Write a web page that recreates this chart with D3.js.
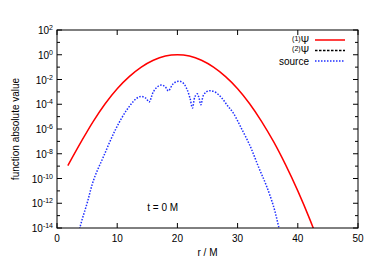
<!DOCTYPE html>
<html>
<head>
<meta charset="utf-8">
<script src="https://cdn.jsdelivr.net/npm/d3@7"></script>
<style>
  body { margin: 0; background: #fff; }
  svg text { font-family: "Liberation Sans", Arial, sans-serif; fill: #000; }
</style>
</head>
<body>
<div id="chart"></div>
<script>
// data
const xTicks = [0, 10, 20, 30, 40, 50];
const yExps = [2, 0, -2, -4, -6, -8, -10, -12, -14];

// (1)Psi, red solid
const psi1R = [1.8, 4, 6, 8, 10, 12, 14, 16, 18, 20, 22, 24, 26, 28, 30, 32, 34, 36, 38, 40, 42, 44];
const psi1V = [1.1e-9, 9e-8, 4e-6, 1.1e-4, 1.8e-3, 1.7e-2, 0.10, 0.36, 0.78, 1.0, 0.78, 0.36, 0.10,
               1.7e-2, 1.8e-3, 1.1e-4, 4e-6, 9e-8, 1.2e-9, 1e-11, 5e-14, 1.4e-16];

// source, blue dotted
const srcR = [3.0, 3.87, 5.0, 6.1, 7.75, 9.7, 11.6, 13.3, 14.1, 14.8, 15.3, 16.0, 16.7, 17.4, 18.0, 18.5,
              19.2, 19.8, 20.4, 21.0, 21.6, 22.1, 22.5, 22.9, 23.3, 23.6, 23.9, 24.3, 24.8, 25.4, 26.2,
              27.2, 28.3, 29.3, 30.5, 32.1, 33.5, 34.8, 36.0, 36.8, 37.6];
const srcV = [1e-16, 1.4e-14, 1e-12, 8e-11, 6.3e-9, 8.7e-7, 3.5e-5, 3.2e-4, 4.2e-4, 3e-4, 1.5e-4, 1e-3,
              2.6e-3, 3.6e-3, 2.5e-3, 1.2e-3, 4e-3, 6.5e-3, 7.2e-3, 5e-3, 1.6e-3, 3e-4, 5e-5, 4e-4, 7e-4,
              3e-4, 9e-5, 5e-4, 1e-3, 1.25e-3, 1e-3, 4e-4, 8e-5, 1.9e-5, 1.5e-6, 4e-8, 8e-10, 2.5e-11,
              5e-13, 1.4e-14, 3e-16];

const legendItems = [
  { sup: "(1)", name: "Ψ", color: "#ff0000", dash: null },
  { sup: "(2)", name: "Ψ", color: "#000000", dash: "2.5,1.5" },
  { sup: null, name: "source", color: "#1f2fff", dash: "1.5,1.5" }
];

const W = 374, H = 261;
const margin = { top: 30, right: 16, bottom: 33, left: 57 };
const width = W - margin.left - margin.right;
const height = H - margin.top - margin.bottom;

const svg = d3.select("#chart").append("svg")
  .attr("width", W).attr("height", H);
const g = svg.append("g")
  .attr("transform", `translate(${margin.left},${margin.top})`);

const x = d3.scaleLinear().domain([0, 50]).range([0, width]);
const y = d3.scaleLog().domain([1e-14, 1e2]).range([height, 0]);

g.append("clipPath").attr("id", "clip")
  .append("rect").attr("width", width).attr("height", height);

// ticks (inward, mirrored)
const tk = g.append("g").attr("stroke", "#000").attr("stroke-width", 1);
xTicks.forEach(v => {
  tk.append("line").attr("x1", x(v)).attr("x2", x(v)).attr("y1", height).attr("y2", height - 5);
  tk.append("line").attr("x1", x(v)).attr("x2", x(v)).attr("y1", 0).attr("y2", 5);
});
d3.range(-14, 3).forEach(e => {
  const len = e % 2 === 0 ? 5 : 3;
  const yy = y(Math.pow(10, e));
  tk.append("line").attr("x1", 0).attr("x2", len).attr("y1", yy).attr("y2", yy);
  tk.append("line").attr("x1", width).attr("x2", width - len).attr("y1", yy).attr("y2", yy);
});

// tick labels
g.selectAll(".xl").data(xTicks).enter().append("text")
  .attr("x", d => x(d)).attr("y", height + 14)
  .attr("text-anchor", "middle").attr("font-size", 10)
  .text(d => d);

const yl = g.selectAll(".yl").data(yExps).enter().append("text")
  .attr("x", -4).attr("y", d => y(Math.pow(10, d)) + 4)
  .attr("text-anchor", "end").attr("font-size", 10);
yl.append("tspan").text("10");
yl.append("tspan").attr("font-size", 7).attr("dy", -4).text(d => d);

// axis titles
g.append("text").attr("x", width / 2).attr("y", height + 28)
  .attr("text-anchor", "middle").attr("font-size", 10).text("r / M");
svg.append("text")
  .attr("transform", `translate(19,${margin.top + height / 2}) rotate(-90)`)
  .attr("text-anchor", "middle").attr("font-size", 10).text("function absolute value");

g.append("text").attr("x", x(15)).attr("y", y(1e-12) + 8)
  .attr("font-size", 10).text("t = 0 M");

// curves
const line = d3.line()
  .x(d => x(d[0])).y(d => y(d[1]))
  .curve(d3.curveCatmullRom);

const plot = g.append("g").attr("clip-path", "url(#clip)");
plot.append("path")
  .datum(psi1R.map((r, i) => [r, psi1V[i]]))
  .attr("d", line).attr("fill", "none")
  .attr("stroke", legendItems[0].color).attr("stroke-width", 1.5);
plot.append("path")
  .datum(srcR.map((r, i) => [r, srcV[i]]))
  .attr("d", line).attr("fill", "none")
  .attr("stroke", legendItems[2].color).attr("stroke-width", 1.5)
  .attr("stroke-dasharray", legendItems[2].dash);

// frame
g.append("rect").attr("width", width).attr("height", height)
  .attr("fill", "none").attr("stroke", "#000").attr("stroke-width", 1);

// legend
const lg = g.append("g");
legendItems.forEach((it, i) => {
  const yy = 10 + i * 10.5;
  const t = lg.append("text").attr("x", 252).attr("y", yy + 3.5)
    .attr("text-anchor", "end").attr("font-size", 10);
  if (it.sup) {
    t.append("tspan").attr("font-size", 7).attr("dy", -3).text(it.sup);
    t.append("tspan").attr("dy", 3).text(it.name);
  } else {
    t.text(it.name);
  }
  lg.append("line").attr("x1", 258).attr("x2", 288).attr("y1", yy).attr("y2", yy)
    .attr("stroke", it.color).attr("stroke-width", 1.5)
    .attr("stroke-dasharray", it.dash);
});
</script>
</body>
</html>
